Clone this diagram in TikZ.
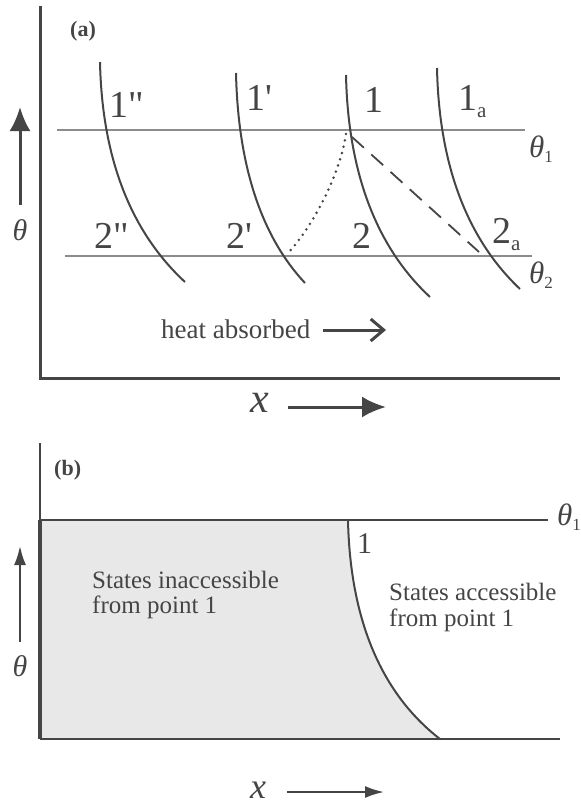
\documentclass[tikz,border=0pt]{standalone}
\usepackage{fontspec}
\setmainfont{Liberation Serif}[Ligatures=TeXOff]
\usetikzlibrary{arrows.meta}
\definecolor{ink}{HTML}{454545}
\definecolor{thin}{HTML}{8C8C8C}
\definecolor{lightfill}{HTML}{E8E8E8}
\newcommand{\biglbl}[1]{\fontsize{38}{40}\selectfont #1}
\newcommand{\sublbl}[1]{\raisebox{-7pt}{\fontsize{21}{21}\selectfont #1}}
\newcommand{\thsub}[1]{\raisebox{-5pt}{\fontsize{17}{17}\selectfont #1}}
\begin{document}
\begin{tikzpicture}[x=1pt,y=-1pt,
  lbl/.style={inner sep=0pt, anchor=base west, text=ink},
  curve/.style={draw=ink, line width=2pt},
  isoline/.style={draw=thin, line width=1.2pt},
  axis/.style={draw=ink, line width=3pt},
  baxis/.style={draw=ink, line width=2.5pt},
  bigarrow/.style={draw=ink, fill=ink, line width=3pt, -{Latex[length=24pt,width=21pt]}},
  smallarrow/.style={draw=ink, fill=ink, line width=2pt, -{Latex[length=19pt,width=12pt]}}
]
\useasboundingbox (0,0) rectangle (581,806);
\clip (0,0) rectangle (581,806);

% ---------------- panel (a) ----------------
\coordinate (a0) at (40,378);
\coordinate (atop) at (40,6);
\coordinate (aright) at (560,378);
\draw[axis] (atop) -- (a0) -- (aright);
\node[lbl, font=\bfseries\fontsize{22}{22}\selectfont] (la) at (70,36) {(a)};

% isotherms
\coordinate (t1l) at (57,130); \coordinate (t1r) at (525,130);
\coordinate (t2l) at (65,256); \coordinate (t2r) at (532,256);
\draw[isoline] (t1l) -- (t1r);
\draw[isoline] (t2l) -- (t2r);
\node[lbl, font=\itshape\fontsize{31}{31}\selectfont] (th1) at (529,157) {θ\thsub{\upshape 1}};
\node[lbl, font=\itshape\fontsize{31}{31}\selectfont] (th2) at (529,283) {θ\thsub{\upshape 2}};

% adiabats
\draw[curve] (100,62) .. controls (102,157) and (130,231) .. (185,282);
\draw[curve] (236,73) .. controls (238,163) and (260,235) .. (305,283);
\draw[curve] (346,75) .. controls (348,170) and (375,246) .. (430,297);
\draw[curve] (437,68) .. controls (439,163) and (466,238) .. (520,289);

% labels
\node[lbl] (l1pp) at (109,117) {\biglbl{1"}};
\node[lbl] (l1p) at (246,110) {\biglbl{1'}};
\node[lbl] (l1) at (364,112) {\biglbl{1}};
\node[lbl] (l1a) at (458,110) {\biglbl{1}\sublbl{a}};
\node[lbl] (l2pp) at (94,248) {\biglbl{2"}};
\node[lbl] (l2p) at (226,248) {\biglbl{2'}};
\node[lbl] (l2) at (352,248) {\biglbl{2}};
\node[lbl] (l2a) at (492,243) {\biglbl{2}\sublbl{a}};

% processes
\coordinate (p1) at (346,134);
\coordinate (p2p) at (287,254);
\coordinate (p1d) at (352,137);
\coordinate (p2a) at (479,252);
\draw[draw=ink, line width=2.8pt, line cap=round, dash pattern=on 0pt off 6.5pt]
  (p1) .. controls (340,175) and (312,228) .. (p2p);
\draw[draw=ink, line width=1.8pt, dash pattern=on 16pt off 10pt] (p1d) -- (p2a);

% heat absorbed
\node[lbl, font=\fontsize{27}{27}\selectfont] (heat) at (161,338) {heat absorbed};
\coordinate (hs) at (323,330); \coordinate (he) at (386,330);
\draw[draw=ink, line width=3pt, -{Straight Barb[length=13pt,width=22pt,line width=3pt]}] (hs) -- (he);

% axes labels
\node[lbl, font=\itshape\fontsize{42}{42}\selectfont] (xa) at (250,412) {x};
\coordinate (xas) at (288,407); \coordinate (xae) at (386,407);
\draw[bigarrow] (xas) -- (xae);
\node[inner sep=0pt, anchor=base, text=ink, font=\itshape\fontsize{30}{30}\selectfont] (tha) at (20,240) {θ};
\coordinate (tas) at (20,205); \coordinate (tae) at (20,107);
\draw[bigarrow] (tas) -- (tae);

% ---------------- panel (b) ----------------
\coordinate (b1) at (348,520);
\coordinate (bend) at (440,739);
\fill[lightfill] (40,520) -- (b1) .. controls (350,614) and (378,691) .. (bend) -- (40,739) -- cycle;
\draw[curve] (b1) .. controls (350,614) and (378,691) .. (bend);
\coordinate (btop) at (40,443);
\coordinate (bmid) at (40,520);
\coordinate (bbot) at (40,739);
\coordinate (btr) at (548,520);
\coordinate (bbr) at (560,739);
\draw[draw=ink, line width=1.5pt] (btop) -- (bmid);
\draw[draw=ink, line width=3.5pt] (bmid) -- (bbot);
\draw[baxis] (bmid) -- (btr);
\draw[baxis] (bbot) -- (bbr);
\node[lbl, font=\bfseries\fontsize{22}{22}\selectfont] (lb) at (54,475) {(b)};
\node[lbl, font=\itshape\fontsize{31}{31}\selectfont] (thb) at (557,525) {θ\thsub{\upshape 1}};
\node[lbl, font=\fontsize{30}{30}\selectfont] (lb1) at (357,553) {1};
\node[lbl, align=left, font=\fontsize{25}{25}\selectfont] (inacc) at (92,613) {States inaccessible\\from point 1};
\node[lbl, align=left, font=\fontsize{25}{26}\selectfont] (acc) at (389,626) {States accessible\\from point 1};

\node[inner sep=0pt, anchor=base, text=ink, font=\itshape\fontsize{30}{30}\selectfont] (thbl) at (20,676) {θ};
\coordinate (tbs) at (20,642); \coordinate (tbe) at (20,546);
\draw[smallarrow] (tbs) -- (tbe);
\node[lbl, font=\itshape\fontsize{36}{36}\selectfont] (xb) at (250,798) {x};
\coordinate (xbs) at (287,792); \coordinate (xbe) at (384,792);
\draw[smallarrow] (xbs) -- (xbe);
\end{tikzpicture}
\end{document}
